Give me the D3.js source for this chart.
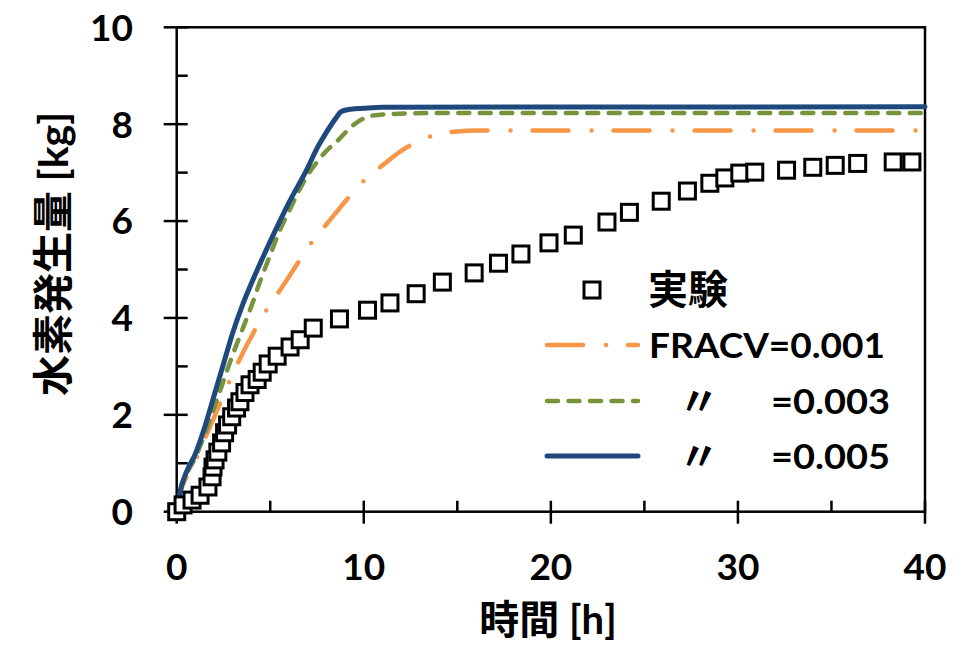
<!DOCTYPE html>
<html><head><meta charset="utf-8">
<script src="https://cdn.jsdelivr.net/npm/d3@7"></script>
<style>body{margin:0;background:#fff;} svg{display:block;}</style>
</head><body>
<svg id="chart" width="962" height="646"></svg>
<script>
// ---- data ----
const xTicks = [0, 10, 20, 30, 40];
const yTicks = [0, 2, 4, 6, 8, 10];
const xMinor = [5, 15, 25, 35];
const yMinor = [1, 3, 5, 7, 9];

const expT = [0, 0.34, 0.82, 1.25, 1.67, 1.89, 1.94, 2.05, 2.2, 2.4, 2.56, 2.72, 2.94, 3.2, 3.38, 3.65, 3.92, 4.3, 4.57, 4.89, 5.37, 6.06, 6.6, 7.3, 8.7, 10.2, 11.4, 12.8, 14.2, 15.9, 17.2, 18.4, 19.9, 21.2, 23.0, 24.2, 25.9, 27.3, 28.5, 29.3, 30.1, 30.9, 32.6, 34.0, 35.2, 36.4, 38.3, 39.3];
const expV = [0, 0.14, 0.24, 0.34, 0.51, 0.72, 0.92, 1.07, 1.23, 1.42, 1.63, 1.79, 1.96, 2.14, 2.27, 2.46, 2.62, 2.73, 2.88, 3.05, 3.21, 3.4, 3.55, 3.79, 3.98, 4.16, 4.31, 4.5, 4.74, 4.93, 5.13, 5.32, 5.55, 5.71, 5.98, 6.18, 6.41, 6.62, 6.78, 6.89, 6.99, 7.01, 7.05, 7.11, 7.15, 7.19, 7.22, 7.22];

const t001 = [0, 0.2, 0.5, 1.0, 1.5, 2.0, 2.5, 3.0, 3.5, 4.0, 4.5, 5.0, 5.5, 6.0, 6.5, 7.0, 7.5, 8.0, 9.0, 10, 11, 12, 13, 14, 15, 16, 40];
const v001 = [0, 0.4, 0.7, 1.05, 1.5, 1.95, 2.4, 2.85, 3.25, 3.62, 3.98, 4.28, 4.56, 4.85, 5.15, 5.45, 5.7, 5.93, 6.4, 6.83, 7.15, 7.45, 7.66, 7.8, 7.85, 7.87, 7.87];

const t003 = [0, 0.2, 0.5, 1.0, 1.5, 2.0, 2.5, 3.0, 3.5, 4.0, 4.5, 5.0, 5.5, 6.0, 6.5, 7.0, 7.5, 8.0, 8.5, 9.0, 9.5, 10, 10.5, 11.5, 14, 40];
const v003 = [0, 0.42, 0.75, 1.12, 1.6, 2.15, 2.7, 3.25, 3.75, 4.25, 4.8, 5.3, 5.8, 6.2, 6.6, 6.95, 7.22, 7.45, 7.62, 7.82, 8.0, 8.12, 8.18, 8.21, 8.23, 8.23];

const t005 = [0, 0.2, 0.5, 1.0, 1.5, 2.0, 2.5, 3.0, 3.5, 4.0, 5.0, 6.0, 7.0, 7.5, 8.0, 8.5, 8.8, 9.3, 10, 11, 40];
const v005 = [0, 0.45, 0.8, 1.2, 1.75, 2.4, 3.05, 3.7, 4.25, 4.72, 5.58, 6.38, 7.1, 7.5, 7.83, 8.12, 8.26, 8.31, 8.33, 8.35, 8.36];

const legendLabels = ["実験", "FRACV=0.001", "=0.003", "=0.005"];
const dittoMark = "〃";
const xTitle = "時間 [h]";
const yTitle = "水素発生量 [kg]";

// ---- layout ----
const svg = d3.select("#chart");
const L = 176.7, R = 925, T = 27.3, B = 511.7;
const x = d3.scaleLinear().domain([0, 40]).range([L, R]);
const y = d3.scaleLinear().domain([0, 10]).range([B, T]);
const FONT = "Lato, 'Noto Sans CJK JP', sans-serif";
const cOrange = "#f79646", cGreen = "#77933c", cBlue = "#1f497d";

// plot border (box)
svg.append("rect").attr("x", L).attr("y", T).attr("width", R - L).attr("height", B - T)
  .attr("fill", "none").attr("stroke", "#000").attr("stroke-width", 2.5);

// ticks
svg.selectAll(".ymaj").data(yTicks).enter().append("line")
  .attr("x1", L - 13).attr("x2", L + 11).attr("y1", d => y(d)).attr("y2", d => y(d))
  .attr("stroke", "#000").attr("stroke-width", 2.5);
svg.selectAll(".ymin").data(yMinor).enter().append("line")
  .attr("x1", L).attr("x2", L + 11).attr("y1", d => y(d)).attr("y2", d => y(d))
  .attr("stroke", "#000").attr("stroke-width", 2.5);
svg.selectAll(".xmaj").data(xTicks).enter().append("line")
  .attr("x1", d => x(d)).attr("x2", d => x(d)).attr("y1", B - 11).attr("y2", B + 12)
  .attr("stroke", "#000").attr("stroke-width", 2.5);
svg.selectAll(".xmin").data(xMinor).enter().append("line")
  .attr("x1", d => x(d)).attr("x2", d => x(d)).attr("y1", B - 11).attr("y2", B)
  .attr("stroke", "#000").attr("stroke-width", 2.5);

// tick labels
svg.selectAll(".ylab").data(yTicks).enter().append("text")
  .attr("x", 133).attr("y", d => y(d)).attr("dy", "0.36em")
  .attr("text-anchor", "end").attr("font-family", FONT).attr("font-weight", "bold")
  .attr("font-size", 37).text(d => d);
svg.selectAll(".xlab").data(xTicks).enter().append("text")
  .attr("x", d => x(d)).attr("y", 580)
  .attr("text-anchor", "middle").attr("font-family", FONT).attr("font-weight", "bold")
  .attr("font-size", 37).text(d => d);

// titles
svg.append("text").attr("x", 548).attr("y", 634).attr("text-anchor", "middle")
  .attr("font-family", FONT).attr("font-weight", "bold").attr("font-size", 40).text(xTitle);
svg.append("text").attr("transform", "translate(68,254) rotate(-90)").attr("text-anchor", "middle")
  .attr("font-family", FONT).attr("font-weight", "bold").attr("font-size", 41).text(yTitle);

// lines
const line = d3.line().x(d => x(d[0])).y(d => y(d[1])).curve(d3.curveMonotoneX);
const series = [
  {t: t001, v: v001, color: cOrange, width: 4.5, dash: "36 23 0 22"},
  {t: t003, v: v003, color: cGreen, width: 4.5, dash: "11 10.5"},
  {t: t005, v: v005, color: cBlue, width: 5, dash: null}
];
series.forEach(s => {
  svg.append("path").datum(s.t.map((t, i) => [t, s.v[i]]))
    .attr("d", line).attr("fill", "none").attr("stroke", s.color)
    .attr("stroke-width", s.width).attr("stroke-linecap", "round")
    .attr("stroke-linejoin", "round")
    .attr("stroke-dasharray", s.dash);
});

// experimental squares
const S = 16;
svg.selectAll(".exp").data(expT.map((t, i) => [t, expV[i]])).enter().append("rect")
  .attr("x", d => x(d[0]) - S / 2).attr("y", d => y(d[1]) - S / 2)
  .attr("width", S).attr("height", S)
  .attr("fill", "#fff").attr("stroke", "#000").attr("stroke-width", 3);

// legend
const lg = svg.append("g");
lg.append("rect").attr("x", 592 - S / 2).attr("y", 290 - S / 2).attr("width", S).attr("height", S)
  .attr("fill", "#fff").attr("stroke", "#000").attr("stroke-width", 3);
lg.append("text").attr("x", 648).attr("y", 304).attr("font-family", FONT).attr("font-weight", "bold")
  .attr("font-size", 40).text(legendLabels[0]);
const rowsY = [345, 401, 456];
series.forEach((s, i) => {
  lg.append("line").attr("x1", 547).attr("x2", 638).attr("y1", rowsY[i]).attr("y2", rowsY[i])
    .attr("stroke", s.color).attr("stroke-width", s.width).attr("stroke-linecap", "round")
    .attr("stroke-dasharray", s.dash);
});
lg.append("text").attr("x", 649).attr("y", 358).attr("font-family", FONT).attr("font-weight", "bold")
  .attr("font-size", 34).attr("textLength", 236).attr("lengthAdjust", "spacingAndGlyphs")
  .text(legendLabels[1]);
[2, 3].forEach(k => {
  const yy = rowsY[k - 1];
  lg.append("text").attr("x", 699).attr("y", yy).attr("dy", "0.35em").attr("text-anchor", "middle")
    .attr("font-family", "'Noto Sans CJK JP', sans-serif").attr("font-weight", "bold")
    .attr("font-size", 40).text(dittoMark);
  lg.append("text").attr("x", 771).attr("y", yy + 13).attr("font-family", FONT).attr("font-weight", "bold")
    .attr("font-size", 34).attr("textLength", 119).attr("lengthAdjust", "spacingAndGlyphs")
    .text(legendLabels[k]);
});
</script>
</body></html>
